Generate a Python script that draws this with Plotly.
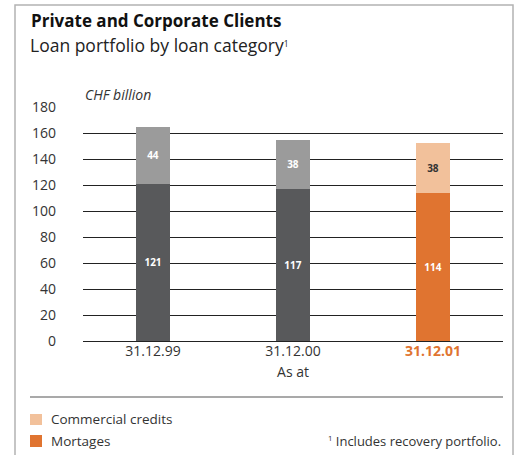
import plotly.graph_objects as go

# data
dates = ["31.12.99", "31.12.00", "31.12.01"]
mortgages = [121, 117, 114]
commercial = [44, 38, 38]

# colours
dark_grey = "#58595b"
light_grey = "#9b9b9b"
orange = "#e07430"
light_orange = "#f2c19b"

font = "Open Sans"

fig = go.Figure()

fig.add_trace(go.Bar(
    x=dates, y=mortgages, name="Mortages",
    marker=dict(color=[dark_grey, dark_grey, orange], line=dict(width=0)),
    text=mortgages, textposition="inside", insidetextanchor="middle",
    textfont=dict(family=font, size=10, color="white", weight="bold"),
    showlegend=False,
))
fig.add_trace(go.Bar(
    x=dates, y=commercial, name="Commercial credits",
    marker=dict(color=[light_grey, light_grey, light_orange], line=dict(width=0)),
    text=commercial, textposition="inside", insidetextanchor="middle",
    textfont=dict(family=font, size=10, color=["white", "white", "#333333"], weight="bold"),
    showlegend=False,
))

ticktext = [dates[0], dates[1], "<b><span style='color:%s'>%s</span></b>" % (orange, dates[2])]

fig.update_layout(
    width=520, height=455,
    margin=dict(l=83, r=17, t=107, b=114),
    paper_bgcolor="white", plot_bgcolor="white",
    barmode="stack", bargap=0.757,
    font=dict(family=font, color="#333333"),
    uniformtext=dict(minsize=9, mode="show"),
    xaxis=dict(
        tickvals=dates, ticktext=ticktext, tickfont=dict(size=14, color="#333333"),
        showgrid=False, showline=False, ticks="",
        title=dict(text="As at", font=dict(size=14), standoff=8),
    ),
    yaxis=dict(
        range=[0, 180], dtick=20, showgrid=True, gridcolor="#222222", gridwidth=1,
        zeroline=True, zerolinecolor="#222222", zerolinewidth=1,
        tickfont=dict(size=14, color="#333333"), ticks="", ticklabelstandoff=26,
    ),
)

# frame, separator line and legend swatches
fig.add_shape(type="rect", xref="paper", yref="paper", x0=-68/420, x1=430/420,
              y0=-120/234, y1=336/234, line=dict(color="#b3b3b3", width=1.5))
fig.add_shape(type="line", xref="paper", yref="paper", x0=-53/420, x1=1,
              y0=-56/234, y1=-56/234, line=dict(color="#555555", width=1.2))
fig.add_shape(type="rect", xref="paper", yref="paper", x0=-53/420, x1=-41/420,
              y0=-73/234, y1=-84/234, fillcolor=light_orange, line=dict(width=0))
fig.add_shape(type="rect", xref="paper", yref="paper", x0=-53/420, x1=-41/420,
              y0=-94/234, y1=-106/234, fillcolor=orange, line=dict(width=0))

ann = dict(xref="paper", yref="paper", showarrow=False)
fig.add_annotation(text="<b>Private and Corporate Clients</b>", x=-54/420, y=321/234,
                   xanchor="left", yanchor="middle", font=dict(size=17, color="#111111"), **ann)
fig.add_annotation(text="Loan portfolio by loan category<span style='font-size:12px'><sup>1</sup></span>",
                   x=-55/420, y=296/234,
                   xanchor="left", yanchor="middle", font=dict(size=17.5, color="#222222"), **ann)
fig.add_annotation(text="<i>CHF billion</i>", x=0, y=246/234,
                   xanchor="left", yanchor="middle", font=dict(size=14, color="#333333", style="italic"), **ann)
fig.add_annotation(text="Commercial credits", x=-34/420, y=-78/234,
                   xanchor="left", yanchor="middle", font=dict(size=13.5, color="#333333"), **ann)
fig.add_annotation(text="Mortages", x=-34/420, y=-100/234,
                   xanchor="left", yanchor="middle", font=dict(size=13.5, color="#333333"), **ann)
fig.add_annotation(text="<span style='font-size:11px'><sup>1</sup></span> Includes recovery portfolio.",
                   x=1, y=-100/234,
                   xanchor="right", yanchor="middle", font=dict(size=13, color="#333333"), **ann)

fig.write_html("out.html", config={"displayModeBar": False},
               post_script="document.body.style.margin='0';")
